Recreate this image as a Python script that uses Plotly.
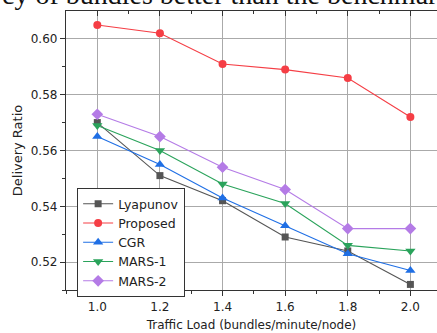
import plotly.graph_objects as go

loads = [1.0, 1.2, 1.4, 1.6, 1.8, 2.0]
lyapunov = [0.570, 0.551, 0.542, 0.529, 0.524, 0.512]
proposed = [0.605, 0.602, 0.591, 0.589, 0.586, 0.572]
cgr = [0.565, 0.555, 0.543, 0.533, 0.523, 0.517]
mars1 = [0.569, 0.560, 0.548, 0.541, 0.526, 0.524]
mars2 = [0.573, 0.565, 0.554, 0.546, 0.532, 0.532]

x_ticks = [1.0, 1.2, 1.4, 1.6, 1.8, 2.0]
x_ticklabels = ["1.0", "1.2", "1.4", "1.6", "1.8", "2.0"]
y_ticks = [0.52, 0.54, 0.56, 0.58, 0.60]
y_ticklabels = ["0.52", "0.54", "0.56", "0.58", "0.60"]

series = [
    ("Lyapunov", lyapunov, "#555555", "square", 7),
    ("Proposed", proposed, "#f53e45", "circle", 8),
    ("CGR", cgr, "#1f6fe5", "triangle-up", 9),
    ("MARS-1", mars1, "#2aa35b", "triangle-down", 9),
    ("MARS-2", mars2, "#b47be6", "diamond", 9),
]

fig = go.Figure()
for name, vals, color, sym, sz in series:
    fig.add_trace(go.Scatter(
        x=loads, y=vals, name=name, mode="lines+markers",
        line=dict(color=color, width=1.1),
        marker=dict(symbol=sym, size=sz, color=color),
    ))

# invisible trace for top mirrored axis
fig.add_trace(go.Scatter(x=[loads[0]], y=[proposed[0]], xaxis="x2", mode="markers",
                         marker=dict(opacity=0), showlegend=False, hoverinfo="skip"))

font_main = "DejaVu Sans"
fig.update_layout(
    width=437, height=333,
    margin=dict(l=66, r=0, t=11, b=43),
    paper_bgcolor="white", plot_bgcolor="white",
    font=dict(family=font_main, size=12, color="#222222"),
    showlegend=True,
    legend=dict(
        x=0.03, y=0.365, xanchor="left", yanchor="top",
        bgcolor="white", bordercolor="#333333", borderwidth=1,
        font=dict(family=font_main, size=12.5, color="#222222"),
        tracegroupgap=0, itemwidth=30,
    ),
    xaxis=dict(
        range=[0.9, 2.085], tickvals=x_ticks, ticktext=x_ticklabels,
        showgrid=True, gridcolor="#aaaaaa", gridwidth=1.3,
        showline=True, linecolor="#333333", linewidth=1.3,
        ticks="outside", ticklen=5, tickcolor="#333333", tickwidth=1,
        minor=dict(tickvals=[0.9, 1.1, 1.3, 1.5, 1.7, 1.9], ticks="outside", ticklen=3,
                   tickcolor="#333333", showgrid=False),
        zeroline=False,
        title=dict(text="Traffic Load (bundles/minute/node)", standoff=8,
                   font=dict(family=font_main, size=12)),
        tickfont=dict(family=font_main, size=12),
    ),
    xaxis2=dict(
        overlaying="x", side="top", range=[0.9, 2.085], tickvals=x_ticks,
        showticklabels=False, showgrid=False, zeroline=False,
        showline=True, linecolor="#333333", linewidth=1.3,
        ticks="inside", ticklen=5, tickcolor="#333333",
        minor=dict(tickvals=[0.9, 1.1, 1.3, 1.5, 1.7, 1.9], ticks="inside", ticklen=3,
                   tickcolor="#333333", showgrid=False),
    ),
    yaxis=dict(
        range=[0.51, 0.61], tickvals=y_ticks, ticktext=y_ticklabels,
        showgrid=True, gridcolor="#aaaaaa", gridwidth=1.3,
        showline=True, linecolor="#333333", linewidth=1.3,
        ticks="outside", ticklen=5, tickcolor="#333333", tickwidth=1,
        minor=dict(tickvals=[0.51, 0.53, 0.55, 0.57, 0.59], ticks="outside", ticklen=3,
                   tickcolor="#333333", showgrid=False),
        zeroline=False,
        title=dict(text="Delivery Ratio", standoff=5, font=dict(family=font_main, size=13)),
        tickfont=dict(family=font_main, size=12),
    ),
    annotations=[dict(
        text="cy of bundles better than the benchmark",
        xref="paper", yref="paper", x=-0.178, y=0.997,
        xanchor="left", yanchor="bottom", showarrow=False,
        font=dict(family="Liberation Serif", size=28, color="#111111"),
    )],
)

fig.write_html("out.html")
